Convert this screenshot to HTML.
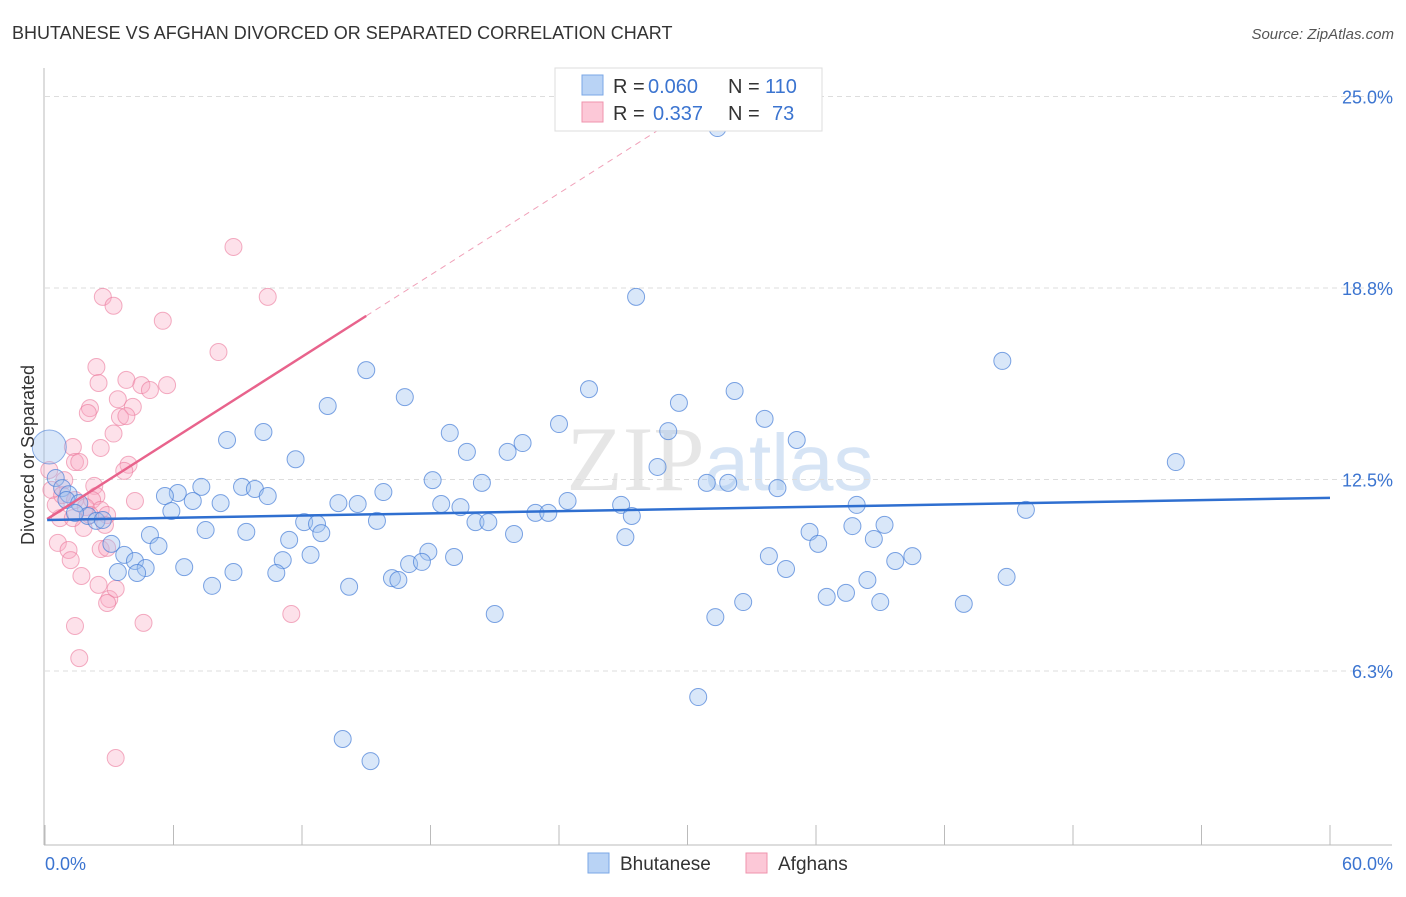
<!DOCTYPE html>
<html><head><meta charset="utf-8"><style>
body{margin:0;background:#fff;font-family:"Liberation Sans",sans-serif;}
</style></head><body>
<svg id="chart" width="1406" height="892" xmlns="http://www.w3.org/2000/svg" font-family="Liberation Sans, sans-serif">
<text x="12" y="39" font-size="18" fill="#333">BHUTANESE VS AFGHAN DIVORCED OR SEPARATED CORRELATION CHART</text>
<text x="1394" y="39" font-size="15" fill="#555" font-style="italic" text-anchor="end">Source: ZipAtlas.com</text>
<text x="720" y="490" font-size="92" fill="#e6e6e6" text-anchor="middle" font-family="Liberation Serif, serif">ZIP<tspan fill="#d6e4f5" font-family="Liberation Sans, sans-serif" font-size="80">atlas</tspan></text>
<g id="grid"></g>
<g id="axes"></g>
<g id="pts"></g>
<g id="lines"></g>
<text transform="translate(34,455) rotate(-90)" font-size="18" fill="#333" text-anchor="middle">Divorced or Separated</text>
<g>
<rect x="555" y="68" width="267" height="63" fill="#fff" stroke="#ddd"/>
<rect x="582" y="75" width="21" height="20" fill="#b9d3f5" stroke="#7aa7e6"/>
<rect x="582" y="102" width="21" height="20" fill="#fcc8d7" stroke="#ef93ae"/>
<text x="613" y="93" font-size="20" fill="#333">R =</text>
<text x="648" y="93" font-size="20" fill="#3b74d0">0.060</text>
<text x="728" y="93" font-size="20" fill="#333">N =</text>
<text x="765" y="93" font-size="20" fill="#3b74d0">110</text>
<text x="613" y="120" font-size="20" fill="#333">R =</text>
<text x="653" y="120" font-size="20" fill="#3b74d0">0.337</text>
<text x="728" y="120" font-size="20" fill="#333">N =</text>
<text x="772" y="120" font-size="20" fill="#3b74d0">73</text>
</g>
<g>
<rect x="588" y="853" width="21" height="20" fill="#b9d3f5" stroke="#7aa7e6"/>
<text x="620" y="870" font-size="19" fill="#333">Bhutanese</text>
<rect x="746" y="853" width="21" height="20" fill="#fcc8d7" stroke="#ef93ae"/>
<text x="778" y="870" font-size="19" fill="#333">Afghans</text>
</g>
</svg>
<script>
const blueX=[31.4,27.6,44.7,15.0,16.8,25.4,32.2,13.2,29.6,33.6,24.0,18.9,10.2,8.5,22.3,35.1,29.1,19.7,21.6,11.7,28.6,52.8,18.1,20.4,30.9,31.9,34.2,7.3,9.2,9.8,6.2,5.6,6.9,10.4,15.8,8.2,13.7,14.6,18.5,19.4,24.4,26.9,37.9,45.8,5.9,22.9,23.5,27.4,15.5,20.1,20.7,12.1,12.7,37.7,39.2,7.5,9.4,12.9,21.9,35.7,4.9,27.1,11.4,38.7,36.1,5.3,3.1,17.9,12.4,19.1,3.7,33.8,40.5,39.7,11.1,17.0,17.6,4.2,6.5,4.7,3.4,8.8,10.8,4.3,34.6,16.2,16.5,44.9,38.4,7.8,14.2,37.4,36.5,32.6,39.0,42.9,21.0,31.3,30.5,13.9,15.2,0.5,0.8,1.1,1.0,1.6,2.0,2.4,2.7,1.4];
const blueY=[23.97,18.46,16.37,16.07,15.19,15.45,15.39,14.90,15.00,14.48,14.31,14.02,14.05,13.79,13.69,13.79,14.08,13.40,13.40,13.16,12.91,13.07,12.48,12.39,12.39,12.39,12.22,12.26,12.26,12.19,12.06,11.96,11.80,11.96,12.09,11.73,11.73,11.70,11.70,11.60,11.80,11.67,11.67,11.51,11.47,11.41,11.41,11.31,11.15,11.11,11.11,11.11,11.05,10.98,11.02,10.85,10.79,10.75,10.72,10.79,10.69,10.62,10.53,10.56,10.40,10.33,10.40,10.14,10.04,9.97,10.04,10.00,10.00,9.84,9.87,9.74,9.81,9.84,9.64,9.61,9.48,9.48,9.45,9.45,9.58,9.28,9.22,9.32,9.22,9.03,9.00,8.80,8.67,8.50,8.50,8.44,8.11,8.01,5.40,4.03,3.31,12.55,12.22,12.02,11.83,11.73,11.31,11.15,11.18,11.41];
const bigX=[0.2], bigY=[13.56];
const pinkX=[8.8,2.7,3.2,10.4,5.5,8.1,2.4,2.5,3.8,4.5,4.9,5.7,3.4,2.1,2.0,4.1,3.5,3.8,3.2,2.6,1.3,1.4,1.6,3.9,3.7,4.2,2.3,2.4,2.2,2.6,2.9,2.8,1.8,0.7,0.5,0.2,0.3,0.6,1.1,1.2,1.7,2.6,2.9,2.5,3.0,2.9,3.3,4.6,1.4,1.6,11.5,3.3,0.9,0.8,1.4,1.9,2.1,1.3];
const pinkY=[20.09,18.46,18.17,18.46,17.68,16.66,16.17,15.65,15.75,15.58,15.42,15.58,15.12,14.83,14.67,14.87,14.54,14.57,14.0,13.53,13.56,13.07,13.07,12.98,12.78,11.80,12.29,11.96,11.83,11.51,11.34,11.02,10.92,11.24,11.67,12.81,12.16,10.43,10.20,9.87,9.35,10.23,10.27,9.06,8.60,8.47,8.93,7.82,7.72,6.67,8.11,3.41,12.48,11.99,11.83,11.60,11.34,11.24];
const yTicks=[25,18.75,12.5,6.25];
const yTickLabels=["25.0%","18.8%","12.5%","6.3%"];
const blueTrend=[[0.1,11.18],[60,11.9]];
const pinkTrend=[[0.1,11.21],[15.0,17.84]];
const pinkDash=[[15.0,17.84],[31.1,25.0]];

const NS="http://www.w3.org/2000/svg";
const X=v=>45+v/60*1285, Y=v=>862.5-v/6.25*191.5;
function mk(tag,attrs,parent){const e=document.createElementNS(NS,tag);for(const k in attrs)e.setAttribute(k,attrs[k]);document.getElementById(parent).appendChild(e);return e;}
yTicks.forEach((t,i)=>{
 const l=mk('line',{x1:45,x2:1392,y1:Y(t),y2:Y(t),stroke:'#ddd','stroke-dasharray':'5,4'},'grid');
 
 
 const tx=mk('text',{x:1393,y:Y(t)+7,'font-size':18,fill:'#3b74d0','text-anchor':'end'},'grid');
 tx.textContent=yTickLabels[i];
 
 
});
mk('line',{x1:44,x2:44,y1:68,y2:845,stroke:'#bbb'},'axes');
mk('line',{x1:44,x2:1392,y1:845,y2:845,stroke:'#bbb'},'axes');
for(let i=0;i<=10;i++){const t=mk('line',{x1:X(i*6),x2:X(i*6),y1:825,y2:845,stroke:'#bbb'},'axes');
 
 }
[["0.0%",45,"start"],["60.0%",1393,"end"]].forEach(a=>{const t=mk('text',{x:a[1],y:870,'font-size':18,fill:'#3b74d0','text-anchor':a[2]},'axes');t.textContent=a[0];
 
 });
pinkX.forEach((v,i)=>{const c=mk('circle',{cx:X(v),cy:Y(pinkY[i]),r:8.5,fill:'rgba(248,170,195,0.35)',stroke:'rgba(235,120,155,0.6)','stroke-width':1},'pts');
 
 });
blueX.forEach((v,i)=>{const c=mk('circle',{cx:X(v),cy:Y(blueY[i]),r:8.5,fill:'rgba(160,195,240,0.4)',stroke:'rgba(70,125,215,0.7)','stroke-width':1},'pts');
 
 });
bigX.forEach((v,i)=>{const c=mk('circle',{cx:X(v),cy:Y(bigY[i]),r:17,fill:'rgba(160,195,240,0.4)',stroke:'rgba(70,125,215,0.6)','stroke-width':1},'pts');
 
 });
function ln(p,st,extra,name){const l=mk('line',Object.assign({x1:X(p[0][0]),y1:Y(p[0][1]),x2:X(p[1][0]),y2:Y(p[1][1]),stroke:st},extra),'lines');
 
 }
ln(pinkDash,'#f0a0b8',{'stroke-width':1,'stroke-dasharray':'6,5'},'afghan-trend-extension');
ln(pinkTrend,'#e8638c',{'stroke-width':2.5},'afghan-trend-line');
ln(blueTrend,'#2f6fd0',{'stroke-width':2.5},'bhutanese-trend-line');
</script>
</body></html>
